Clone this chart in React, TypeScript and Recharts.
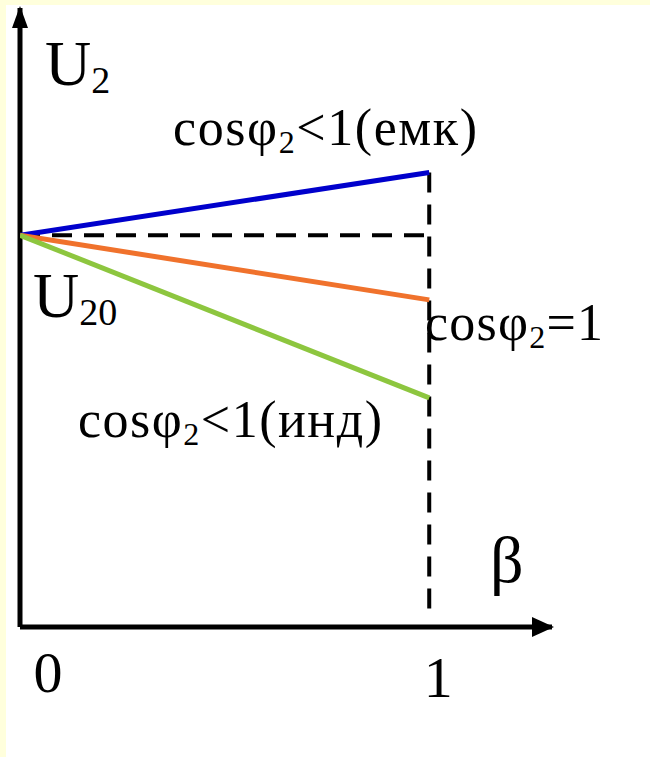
import { LineChart, Line, XAxis, YAxis, ReferenceDot, ReferenceLine, Customized } from "recharts"

// load factor beta and secondary voltage U2 (in units of U20)
const betaPoints = [0, 1]
const u20 = 1
const capacitive = [1, 1.16]
const resistive = [1, 0.835]
const inductive = [1, 0.585]
const dropFoot = 0.04
const xTicks = [0, 1]
const xMax = 1.3
const yMax = 1.58

const rows = betaPoints.map((b, i) => ({
    beta: b,
    cap: capacitive[i],
    res: resistive[i],
    ind: inductive[i],
}))
const noLoadLine = betaPoints.map((b) => ({ beta: b, u: u20 }))
const ratedLine = [
    { beta: betaPoints[1], u: capacitive[1] },
    { beta: betaPoints[1], u: dropFoot },
]

const serif = "Liberation Serif"

const tickShift: Record<number, [number, number]> = { 0: [28, 65], 1: [9, 70] }

const BetaTick = ({ x, y, payload }: any) => {
    const [dx, dy] = tickShift[payload.value] || [0, 60]
    return (
        <text x={x + dx} y={y + dy} textAnchor="middle" fontSize={58} style={{ fontFamily: serif }} fill="#000">
            {payload.value}
        </text>
    )
}

const ArrowRight = ({ cx, cy }: any) => (
    <path d={`M${cx + 2},${cy} l-22,-10 l0,20 z`} fill="#000" />
)
const ArrowUp = ({ cx, cy }: any) => (
    <path d={`M${cx},${cy - 2} l-8,22 l16,0 z`} fill="#000" />
)

const CosLabel = ({ x, y, tail, width }: { x: number; y: number; tail: string; width: number }) => (
    <text x={x} y={y} fontSize={52} style={{ fontFamily: serif }} fill="#000" textLength={width} lengthAdjust="spacing">
        cosφ
        <tspan fontSize={32} dy={8}>2</tspan>
        <tspan dy={-8}>{tail}</tspan>
    </text>
)

const Labels = () => (
    <g>
        <text x={45} y={85} fontSize={64} style={{ fontFamily: serif }} fill="#000">
            U<tspan fontSize={38} dy={8}>2</tspan>
        </text>
        <text x={33} y={317} fontSize={64} style={{ fontFamily: serif }} fill="#000">
            U<tspan fontSize={38} dy={8}>20</tspan>
        </text>
        <CosLabel x={173} y={145} tail="<1(емк)" width={304} />
        <CosLabel x={425} y={340} tail="=1" width={178} />
        <CosLabel x={78} y={437} tail="<1(инд)" width={304} />
        <text x={490} y={582} fontSize={66} style={{ fontFamily: serif }} fill="#000">β</text>
    </g>
)

export default function App() {
    return (
        <div style={{ position: "absolute", left: 0, top: 0, width: 650, height: 757, background: "#fff", overflow: "hidden" }}>
            <div style={{ position: "absolute", left: 0, top: 0, width: 650, height: 5, background: "#FFFFDC" }} />
            <div style={{ position: "absolute", left: 0, top: 0, width: 6, height: 757, background: "#FFFFDC" }} />
            <div style={{ position: "absolute", left: 0, top: 0 }}>
                <LineChart width={650} height={757} data={rows} margin={{ top: 8, right: 98, bottom: 70, left: 20 }}>
                    <XAxis
                        dataKey="beta"
                        type="number"
                        domain={[0, xMax]}
                        ticks={xTicks}
                        height={60}
                        tickSize={0}
                        tickMargin={0}
                        tickLine={false}
                        tick={<BetaTick />}
                        axisLine={{ stroke: "#000", strokeWidth: 5 }}
                        allowDataOverflow
                    />
                    <YAxis type="number" domain={[0, yMax]} hide allowDataOverflow />
                    <ReferenceLine x={0} stroke="#000" strokeWidth={5} ifOverflow="visible" />
                    <Line data={noLoadLine} dataKey="u" stroke="#000" strokeWidth={4} strokeDasharray="20 12" dot={false} isAnimationActive={false} />
                    <Line data={ratedLine} dataKey="u" stroke="#000" strokeWidth={4} strokeDasharray="20 12" dot={false} isAnimationActive={false} />
                    <Line dataKey="cap" stroke="#0000CC" strokeWidth={5} dot={false} isAnimationActive={false} />
                    <Line dataKey="res" stroke="#F0722C" strokeWidth={5} dot={false} isAnimationActive={false} />
                    <Line dataKey="ind" stroke="#8DC63F" strokeWidth={5} dot={false} isAnimationActive={false} />
                    <ReferenceDot x={xMax} y={0} ifOverflow="visible" shape={<ArrowRight />} />
                    <ReferenceDot x={0} y={yMax} ifOverflow="visible" shape={<ArrowUp />} />
                    <Customized component={Labels} />
                </LineChart>
            </div>
        </div>
    )
}
